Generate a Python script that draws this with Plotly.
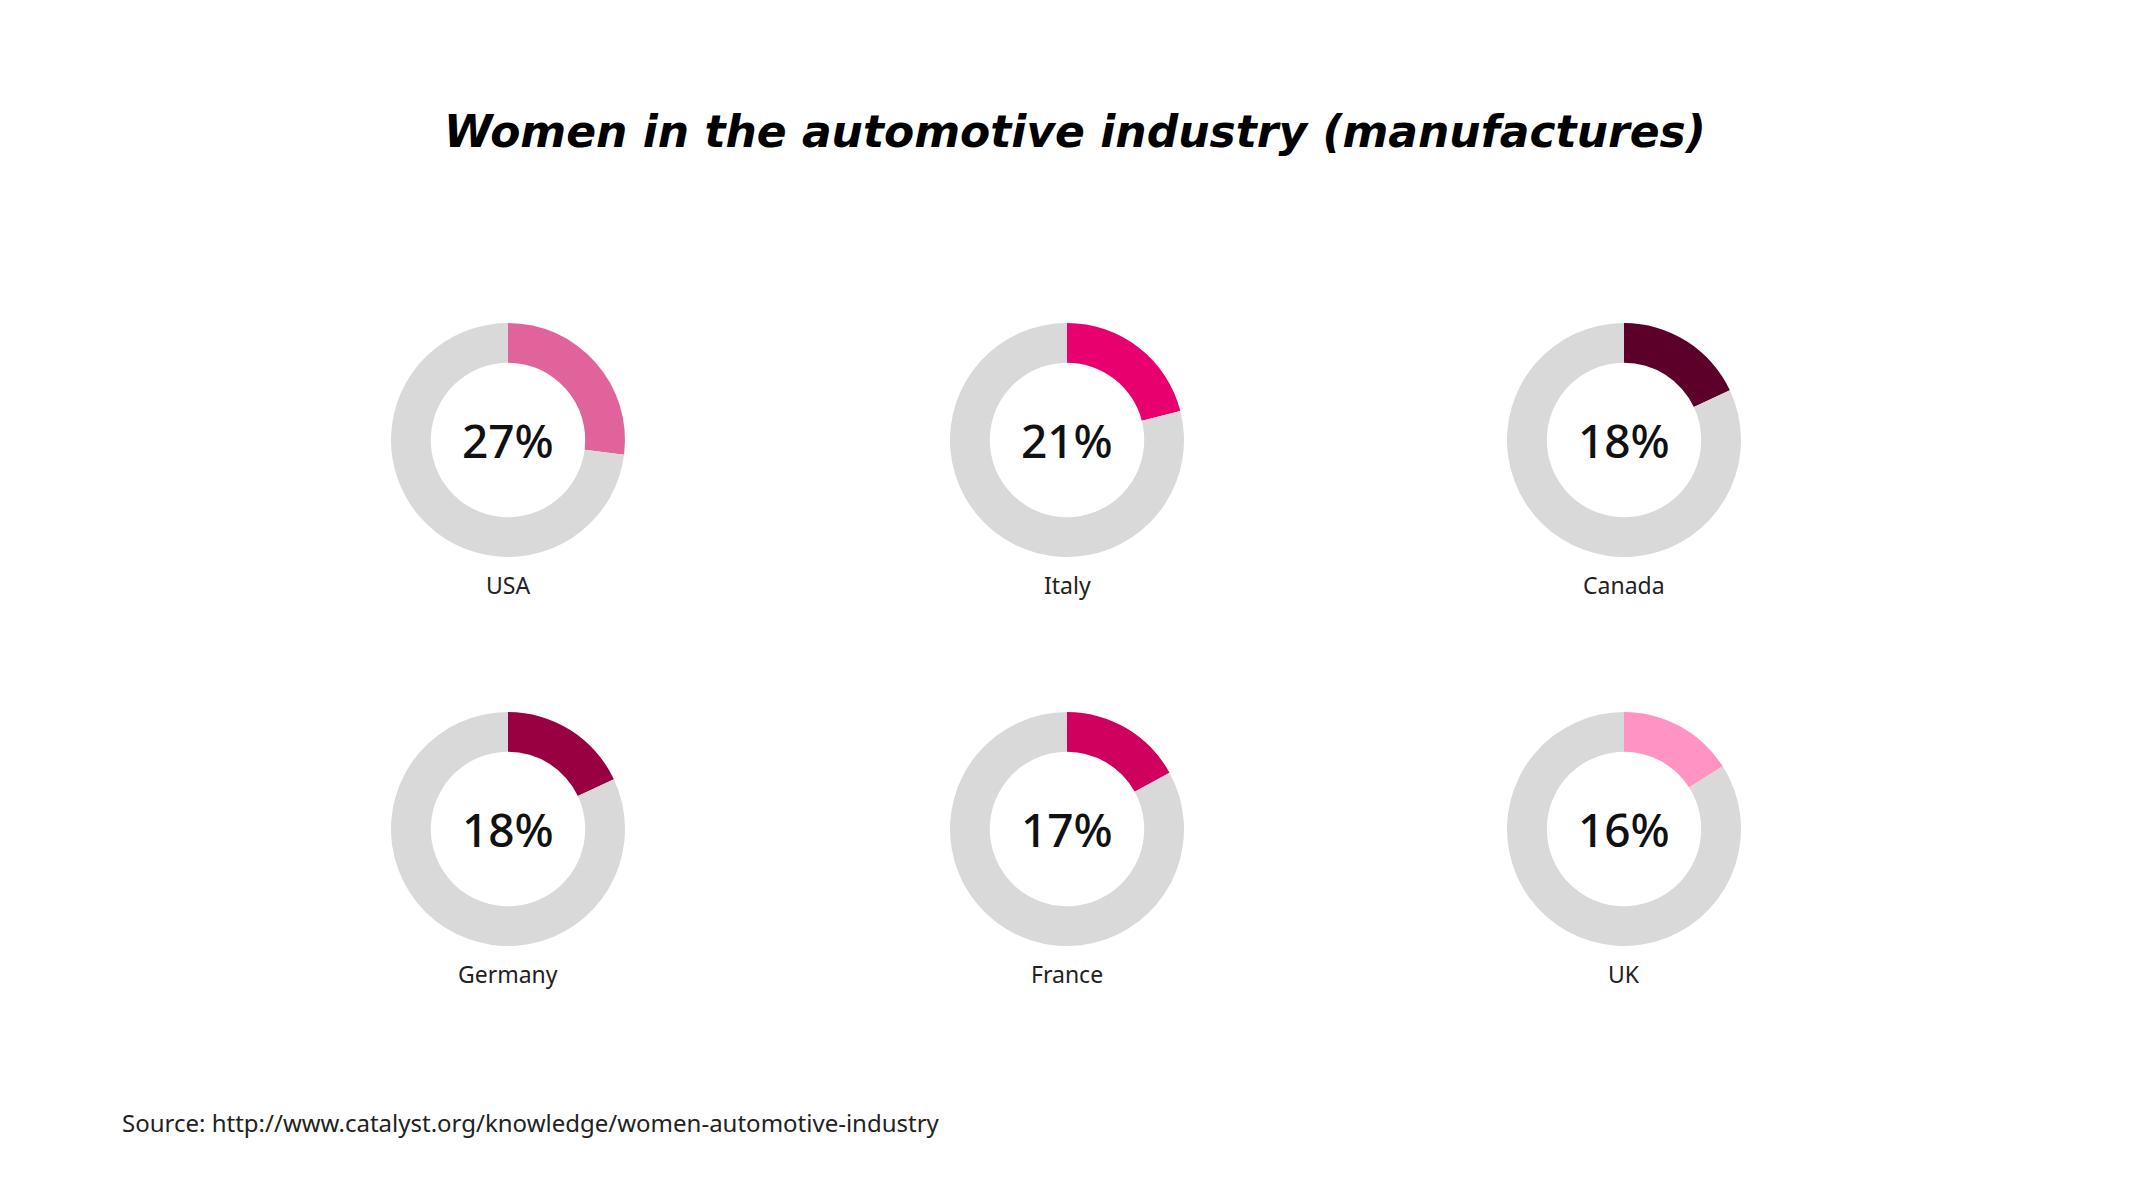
import plotly.graph_objects as go

# data
countries = ["USA", "Italy", "Canada", "Germany", "France", "UK"]
women_share = [27, 21, 18, 18, 17, 16]
slice_colors = ["#E0649B", "#E8006E", "#5C0029", "#990042", "#D0005F", "#FF94C4"]
rest_color = "#D9D9D9"

W, H = 2133, 1200
col_x = [500, 1059, 1616]      # donut centres, px
row_y = [432, 821]
radius = 117

fig = go.Figure()

for i, (name, val, col) in enumerate(zip(countries, women_share, slice_colors)):
    cx = col_x[i % 3]
    cy = row_y[i // 3]
    fig.add_trace(go.Pie(
        values=[val, 100 - val],
        labels=[name, "Other"],
        marker=dict(colors=[col, rest_color], line=dict(width=0)),
        hole=0.66,
        sort=False,
        direction="clockwise",
        rotation=0,
        textinfo="none",
        hoverinfo="label+percent",
        showlegend=False,
        domain=dict(x=[(cx - radius) / W, (cx + radius) / W],
                    y=[1 - (cy + radius) / H, 1 - (cy - radius) / H]),
    ))
    # percentage in the hole
    fig.add_annotation(
        x=cx / W, y=1 - cy / H, xref="paper", yref="paper",
        xanchor="center", yanchor="middle",
        text=f"{val}%", showarrow=False,
        font=dict(family="Noto Sans", size=46, color="#111111", weight=500),
    )
    # country label under the donut
    fig.add_annotation(
        x=cx / W, y=1 - (cy + 145) / H, xref="paper", yref="paper",
        xanchor="center", yanchor="middle",
        text=name, showarrow=False,
        font=dict(family="Noto Sans", size=23, color="#222222"),
    )

# title
fig.add_annotation(
    x=1067 / W, y=1 - 124 / H, xref="paper", yref="paper",
    xanchor="center", yanchor="middle",
    text="Women in the automotive industry (manufactures)", showarrow=False,
    font=dict(family="DejaVu Sans", size=44, color="#000000", weight="bold", style="italic"),
)

# source
fig.add_annotation(
    x=112 / W, y=1 - 1114 / H, xref="paper", yref="paper",
    xanchor="left", yanchor="middle",
    text="Source: http://www.catalyst.org/knowledge/women-automotive-industry",
    showarrow=False,
    font=dict(family="Noto Sans", size=24, color="#222222"),
)

fig.update_layout(
    width=W, height=H,
    margin=dict(l=0, r=0, t=0, b=0),
    paper_bgcolor="white",
    plot_bgcolor="white",
)

fig.write_html("out.html")
